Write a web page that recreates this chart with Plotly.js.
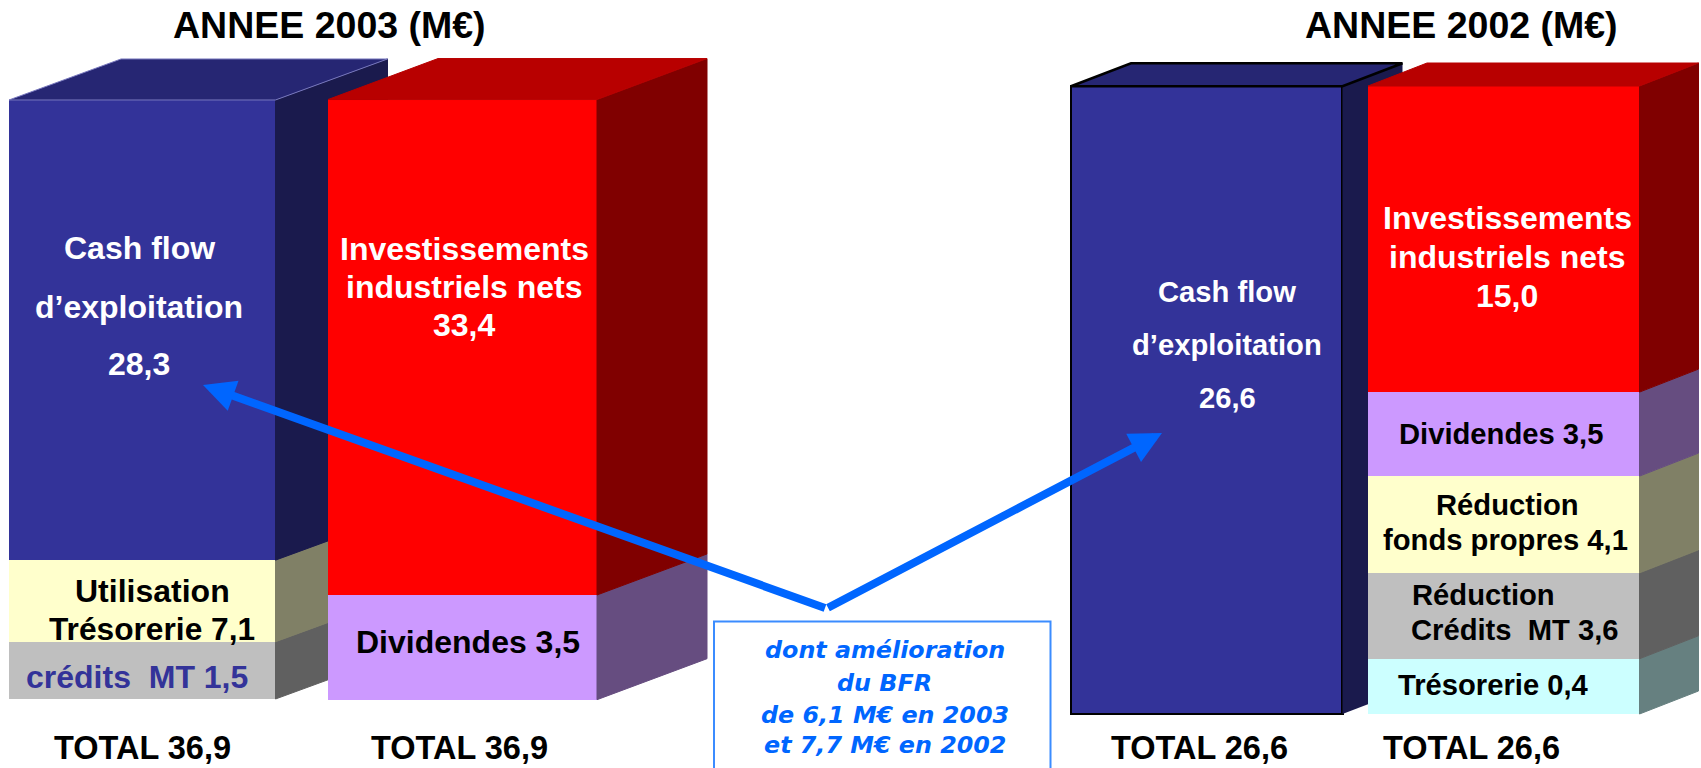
<!DOCTYPE html>
<html lang="fr">
<head>
<meta charset="utf-8">
<title>Emplois et ressources 2003 / 2002</title>
<script src="https://cdn.plot.ly/plotly-3.0.1.min.js"></script>
<style>html,body{margin:0;padding:0;background:#fff;overflow:hidden}#chart{width:1701px;height:768px}</style>
</head>
<body>
<div id="chart"></div>
<script>
// --- DATA: segment heights, in M€ on each bar's own scale, bottom to top ---
const sources2003Names = ["Crédits MT", "Utilisation Trésorerie", "Cash flow d'exploitation"];
const sources2003Values = [3.52, 5.02, 28.30];
const uses2003Names = ["Dividendes", "Investissements industriels nets"];
const uses2003Values = [6.44, 30.47];
const sources2002Names = ["Cash flow d'exploitation"];
const sources2002Values = [26.6];
const uses2002Names = ["Trésorerie", "Réduction Crédits MT", "Réduction fonds propres", "Dividendes", "Investissements industriels nets"];
const uses2002Values = [2.34, 3.64, 4.10, 3.56, 12.97];

const titleTexts = ["ANNEE 2003 (M€)", "ANNEE 2002 (M€)"];
const totalTexts = ["TOTAL 36,9", "TOTAL 36,9", "TOTAL 26,6", "TOTAL 26,6"];
const noteLines = ["dont amélioration", "du BFR", "de 6,1 M€ en 2003", "et 7,7 M€ en 2002"];

// --- STYLES ---
const W = 1701, H = 768;
const NAVY = "#333399", RED = "#FF0000", CREAM = "#FFFFCC", GREY = "#BFBFBF", LILAC = "#CC99FF", AQUA = "#CCFFFF";
const ARROW = "#0066FF", BOX = "#3B8CFF";
const FONT = "Liberation Sans, Arial, sans-serif";
const NOTE_FONT = "DejaVu Sans, Verdana, sans-serif";

function shade(hex, k) {
  const n = parseInt(hex.slice(1), 16);
  const c = [n >> 16 & 255, n >> 8 & 255, n & 255].map(v => Math.round(v * k));
  return `rgb(${c[0]},${c[1]},${c[2]})`;
}

// --- GEOMETRY: one box per bar (pixel frame of the hidden axes) ---
const boxes = [
  {names: sources2003Names, values: sources2003Values, colors: [GREY, CREAM, NAVY], left: 9, right: 275.5, depthX: 112, depthY: 41, base: 699, ppu: 16.26, edge: "#7878BE", edgeW: 1, frontLine: 0},
  {names: uses2003Names, values: uses2003Values, colors: [LILAC, RED], left: 328, right: 597, depthX: 110, depthY: 41, base: 699.7, ppu: 16.26, edge: null, edgeW: 1, frontLine: 0},
  {names: sources2002Names, values: sources2002Values, colors: [NAVY], left: 1071, right: 1342.5, depthX: 60, depthY: 23, base: 714, ppu: 23.6, edge: "#000000", edgeW: 2.5, frontLine: 2.5},
  {names: uses2002Names, values: uses2002Values, colors: [AQUA, GREY, CREAM, LILAC, RED], left: 1368, right: 1639.5, depthX: 59, depthY: 23, base: 714, ppu: 23.6, edge: null, edgeW: 1, frontLine: 0}
];

const traces = [];
const layout = {
  width: W, height: H, margin: {l: 0, r: 0, t: 0, b: 0},
  paper_bgcolor: "#fff", plot_bgcolor: "#fff", barmode: "stack", showlegend: false,
  annotations: [], shapes: []
};

boxes.forEach((b, i) => {
  const id = i === 0 ? "" : String(i + 1);
  const xa = "x" + id, ya = "y" + id;
  const common = {visible: false, fixedrange: true};
  layout["xaxis" + id] = Object.assign({}, common, {range: [0, W]}, i ? {overlaying: "x"} : {});
  layout["yaxis" + id] = Object.assign({}, common, {range: [(b.base - H) / b.ppu, b.base / b.ppu]}, i ? {overlaying: "y"} : {});
  const dy = b.depthY / b.ppu, xr = b.right, xb = b.right + b.depthX, xl = b.left + b.depthX;
  let level = 0;
  b.values.forEach((v, k) => {
    traces.push({
      type: "bar", name: b.names[k], x: [(b.left + b.right) / 2], y: [v], width: [b.right - b.left],
      xaxis: xa, yaxis: ya, marker: {color: b.colors[k], line: {width: b.frontLine, color: "#000"}}, hoverinfo: "name+y"
    });
    // side face of this segment
    const sideColor = shade(b.colors[k], 0.5);
    traces.push({
      type: "scatter", mode: "lines", x: [xr, xb, xb, xr, xr], y: [level, level + dy, level + v + dy, level + v, level],
      xaxis: xa, yaxis: ya, fill: "toself", fillcolor: sideColor,
      line: {width: b.frontLine ? 0 : 1, color: sideColor}, hoverinfo: "skip"
    });
    level += v;
  });
  // top face of the whole bar
  const topColor = b.colors[b.colors.length - 1];
  const topFill = shade(topColor, topColor === RED ? 0.72 : 0.75);
  traces.push({
    type: "scatter", mode: "lines", x: [b.left, xl, xb, xr, b.left], y: [level, level + dy, level + dy, level, level],
    xaxis: xa, yaxis: ya, fill: "toself", fillcolor: topFill,
    line: {width: b.edgeW, color: b.edge || topFill}, hoverinfo: "skip"
  });
});

// --- TEXT ---
function label(text, xPx, yPx, size, color, family, style) {
  layout.annotations.push({
    xref: "paper", yref: "paper", x: xPx / W, y: 1 - yPx / H, xanchor: "center", yanchor: "middle",
    showarrow: false, text: style ? `<b><i>${text}</i></b>` : `<b>${text}</b>`,
    font: {family: family || FONT, size: size, color: color}
  });
}
const S = 32, T = 29.2, TOT = 32.5;
label(titleTexts[0], 329.5, 25, 37.5, "#000");
label(titleTexts[1], 1461.5, 25, 37.5, "#000");
label("Cash flow", 139.3, 248, S, "#fff");
label("d’exploitation", 139, 306.5, S, "#fff");
label("28,3", 139.3, 364, S, "#fff");
label("Investissements", 464, 249, S, "#fff");
label("industriels nets", 464, 287, S, "#fff");
label("33,4", 464, 325, S, "#fff");
label("Utilisation", 152.5, 591, S, "#000");
label("Trésorerie 7,1", 152, 629, 31.7, "#000");
label("crédits&nbsp;&nbsp;MT 1,5", 137, 677, S, NAVY);
label("Dividendes 3,5", 468, 642, S, "#000");
label("Cash flow", 1227, 292, T, "#fff");
label("d’exploitation", 1227, 345, T, "#fff");
label("26,6", 1227, 398, T, "#fff");
label("Investissements", 1507, 217.5, S, "#fff");
label("industriels nets", 1507, 257, S, "#fff");
label("15,0", 1507, 295.5, S, "#fff");
label("Dividendes 3,5", 1500.5, 434, T, "#000");
label("Réduction", 1507.5, 504.5, T, "#000");
label("fonds propres 4,1", 1505.5, 540, T, "#000");
label("Réduction", 1483, 595, T, "#000");
label("Crédits&nbsp;&nbsp;MT 3,6", 1514.5, 629.5, T, "#000");
label("Trésorerie 0,4", 1493, 684.5, T, "#000");
[142.3, 459.3, 1199, 1471.5].forEach((x, i) => label(totalTexts[i], x, 747.5, TOT, "#000"));
[650, 683, 715, 745].forEach((y, i) => label(noteLines[i], 884.5, y, 23.8, ARROW, NOTE_FONT, true));

// --- NOTE BOX AND ARROWS ---
layout.shapes.push({
  type: "rect", xref: "paper", yref: "paper", x0: 714 / W, x1: 1050.5 / W, y0: -0.02, y1: 1 - 621.5 / H,
  line: {color: BOX, width: 2}, fillcolor: "rgba(0,0,0,0)"
});
const apex = [826.5, 608.5];
[[203, 385], [1162, 433]].forEach(tip => {
  layout.annotations.push({
    xref: "paper", yref: "paper", x: tip[0] / W, y: 1 - tip[1] / H, text: "", showarrow: true,
    axref: "pixel", ayref: "pixel", ax: apex[0] - tip[0], ay: apex[1] - tip[1],
    arrowhead: 2, arrowsize: 0.8, arrowwidth: 8, arrowcolor: ARROW, standoff: 0, startstandoff: 0
  });
});

Plotly.newPlot("chart", traces, layout, {displayModeBar: false, staticPlot: true});
</script>
</body>
</html>
